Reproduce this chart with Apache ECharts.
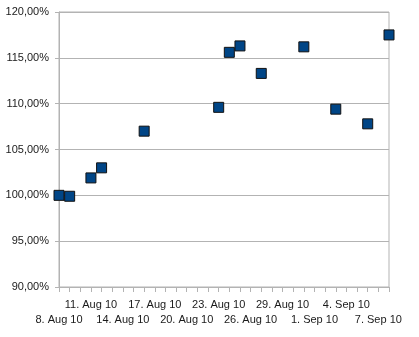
<!DOCTYPE html>
<html>
<head>
<meta charset="utf-8">
<script src="https://cdn.jsdelivr.net/npm/echarts@6/dist/echarts.min.js"></script>
<style>
html,body{margin:0;padding:0;background:#fff;}
#c{width:419px;height:337px;}
</style>
</head>
<body>
<div id="c"></div>
<script>
// Axis categories: every day from 8 Aug 10 to 8 Sep 10
const categories = [
  '8. Aug 10','9. Aug 10','10. Aug 10','11. Aug 10','12. Aug 10','13. Aug 10','14. Aug 10','15. Aug 10',
  '16. Aug 10','17. Aug 10','18. Aug 10','19. Aug 10','20. Aug 10','21. Aug 10','22. Aug 10','23. Aug 10',
  '24. Aug 10','25. Aug 10','26. Aug 10','27. Aug 10','28. Aug 10','29. Aug 10','30. Aug 10','31. Aug 10',
  '1. Sep 10','2. Sep 10','3. Sep 10','4. Sep 10','5. Sep 10','6. Sep 10','7. Sep 10','8. Sep 10'
];
// Observation dates and values (percent)
const dates = ['8. Aug 10','9. Aug 10','11. Aug 10','12. Aug 10','16. Aug 10','23. Aug 10','24. Aug 10',
               '25. Aug 10','27. Aug 10','31. Aug 10','3. Sep 10','6. Sep 10','8. Sep 10'];
const values = [100.0, 99.9, 101.9, 103.0, 107.0, 109.6, 115.6, 116.3, 113.3, 116.2, 109.4, 107.8, 117.5];
const yTicks = [90, 95, 100, 105, 110, 115, 120];

const data = dates.map((d, i) => [d, values[i]]);
const labelFont = {
  color: '#1a1a1a',
  fontFamily: 'Liberation Sans, Arial, sans-serif',
  fontSize: 11
};
const chart = echarts.init(document.getElementById('c'));
chart.setOption({
  animation: false,
  backgroundColor: '#ffffff',
  grid: {left: 59, right: 30, top: 12, bottom: 50, show: true, borderColor: '#b3b3b3', borderWidth: 1, containLabel: false},
  xAxis: [{
    type: 'category',
    data: categories,
    boundaryGap: false,
    position: 'bottom',
    axisLine: {show: true, lineStyle: {color: '#b3b3b3', width: 1}},
    axisTick: {show: true, interval: 0, length: 5, lineStyle: {color: '#b3b3b3'}},
    splitLine: {show: false},
    axisLabel: Object.assign({
      interval: function (idx) { return idx % 6 === 3; },
      hideOverlap: false,
      margin: 12.5
    }, labelFont)
  }, {
    type: 'category',
    data: categories,
    boundaryGap: false,
    position: 'bottom',
    offset: 0,
    axisLine: {show: false},
    axisTick: {show: false},
    splitLine: {show: false},
    axisLabel: Object.assign({
      interval: function (idx) { return idx % 6 === 0; },
      hideOverlap: false,
      margin: 27
    }, labelFont)
  }],
  yAxis: {
    type: 'value',
    min: yTicks[0],
    max: yTicks[yTicks.length - 1],
    interval: 5,
    axisLine: {show: true, lineStyle: {color: '#b3b3b3', width: 1}},
    axisTick: {show: true, length: 4, lineStyle: {color: '#b3b3b3'}},
    splitLine: {show: true, lineStyle: {color: '#b3b3b3', width: 1}},
    axisLabel: Object.assign({
      margin: 10,
      formatter: function (v) { return v.toFixed(2).replace('.', ',') + '%'; }
    }, labelFont)
  },
  series: [{
    type: 'scatter',
    xAxisIndex: 0,
    data: data,
    symbol: 'rect',
    symbolSize: 10,
    itemStyle: {color: '#004586', borderColor: '#111111', borderWidth: 1, opacity: 1}
  }]
});
</script>
</body>
</html>
